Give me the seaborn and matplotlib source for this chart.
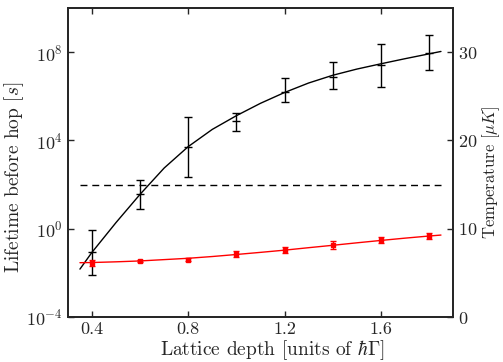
import numpy as np
import pandas as pd
import seaborn as sns
import matplotlib.pyplot as plt

# measured points
depth = [0.4, 0.6, 0.8, 1.0, 1.2, 1.4, 1.6, 1.8]
lifetime_log = [-1.06, 1.56, 3.70, 4.89, 6.21, 6.89, 7.42, 7.98]
lifetime_log_lo = [-2.10, 0.89, 2.34, 4.44, 5.73, 6.31, 6.41, 7.18]
lifetime_log_hi = [-0.06, 2.20, 5.07, 5.26, 6.81, 7.54, 8.37, 8.79]
temperature = [6.12, 6.30, 6.50, 7.15, 7.59, 8.15, 8.72, 9.17]
temperature_err = [0.30, 0.12, 0.15, 0.35, 0.35, 0.45, 0.30, 0.30]

# fitted curves
fit_depth = [0.35, 0.4, 0.5, 0.6, 0.7, 0.8, 0.9, 1.0, 1.1, 1.2, 1.3, 1.4, 1.5, 1.6, 1.7, 1.8, 1.85]
fit_lifetime_log = [-1.83, -1.07, 0.28, 1.56, 2.75, 3.72, 4.50, 5.12, 5.68, 6.17, 6.60, 6.95, 7.23, 7.47, 7.70, 7.92, 8.03]
fit_temperature = [6.15, 6.17, 6.25, 6.35, 6.50, 6.65, 6.85, 7.08, 7.32, 7.57, 7.85, 8.12, 8.40, 8.67, 8.93, 9.17, 9.28]

threshold = 1e2  # dashed line [s]

sns.set_style("ticks")
plt.rcParams['font.family'] = 'serif'
plt.rcParams['font.serif'] = ['cmr10', 'DejaVu Serif']
plt.rcParams['mathtext.fontset'] = 'cm'
plt.rcParams['axes.formatter.use_mathtext'] = True
plt.rcParams['axes.linewidth'] = 1.3

fig = plt.figure(figsize=(5.03, 3.62), dpi=100)
ax = fig.add_axes([0.135, 0.1243, 0.7656, 0.8537])
ax2 = ax.twinx()

life = 10 ** np.array(lifetime_log)
life_err = [life - 10 ** np.array(lifetime_log_lo), 10 ** np.array(lifetime_log_hi) - life]

fit = pd.DataFrame({'depth': fit_depth,
                    'lifetime': 10 ** np.array(fit_lifetime_log),
                    'temperature': fit_temperature})

sns.lineplot(data=fit, x='depth', y='lifetime', ax=ax, color='black', linewidth=1)
ax.errorbar(depth, life, yerr=life_err, fmt='_', color='black', markersize=6,
            capsize=3, elinewidth=1, capthick=1)
ax.plot([fit_depth[0], fit_depth[-1]], [threshold, threshold], 'k--', linewidth=1, dashes=(5, 3.5))

sns.lineplot(data=fit, x='depth', y='temperature', ax=ax2, color='red', linewidth=1)
ax2.errorbar(depth, temperature, yerr=temperature_err, fmt='s', color='red', markersize=3.5,
             capsize=2.5, elinewidth=1, capthick=1)

ax.set_yscale('log')
ax.set_ylim(1e-4, 1e10)
ax.set_yticks([1e-4, 1e0, 1e4, 1e8])
ax.minorticks_off()
ax.set_xlim(0.3, 1.9)
ax.set_xticks([0.4, 0.8, 1.2, 1.6])
ax.set_xticklabels(['0.4', '0.8', '1.2', '1.6'])
ax.set_xlabel(r'Lattice depth [units of $\hbar\Gamma$]', fontsize=14)
ax.xaxis.set_label_coords(0.53, -0.068)
ax.set_ylabel(r'Lifetime before hop [$s$]', fontsize=14)
ax.yaxis.set_label_coords(-0.11, 0.453)
ax.tick_params(direction='in', length=4, width=1, top=True, labelsize=13)

ax2.set_ylim(0, 35)
ax2.set_yticks([0, 10, 20, 30])
ax2.set_ylabel(r'Temperature [$\mu K$]', fontsize=12)
ax2.yaxis.set_label_coords(1.07, 0.469)
ax2.tick_params(direction='in', length=4, width=1, labelsize=13)
ax2.set_xlim(0.3, 1.9)

fig.savefig('out.png', dpi=100)
